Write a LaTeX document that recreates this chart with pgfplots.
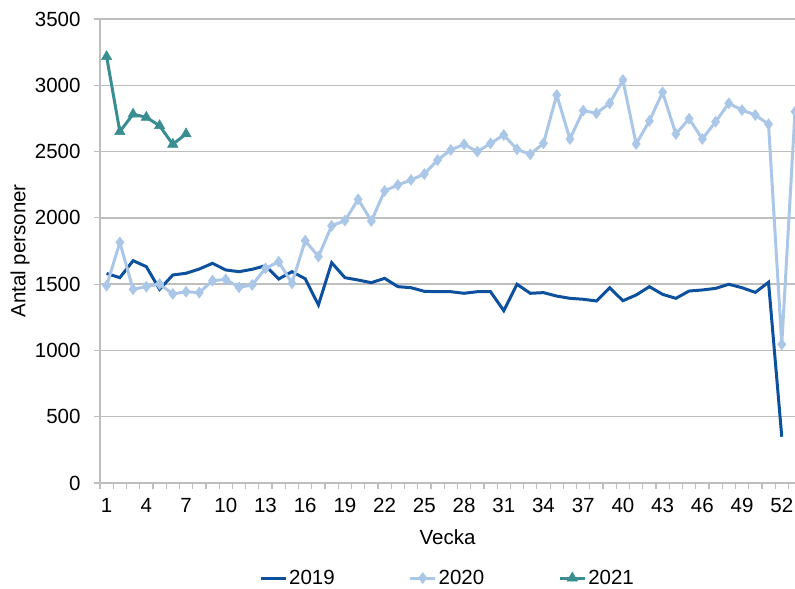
\documentclass[border=0pt]{standalone}
\usepackage{pgfplots}
\pgfplotsset{compat=1.18}
\usepackage{fontspec}
\setmainfont{Liberation Sans}
\definecolor{c19}{RGB}{12,80,158}
\definecolor{c20}{RGB}{170,199,232}
\definecolor{c21}{RGB}{58,142,145}
\definecolor{gridc}{RGB}{190,190,190}
\begin{document}
\begin{tikzpicture}[font=\fontsize{20.5bp}{24bp}\selectfont]
\begin{axis}[name=ax, scale only axis, width=695bp, height=464bp,
  xmin=0.5, xmax=53, ymin=0, ymax=3500,
  clip=false,
  axis x line*=bottom, axis y line*=left,
  axis line style={gridc, line width=1.2bp},
  xtick={1,4,...,52}, minor xtick={0.5,1.5,...,52.5},
  ytick={0,500,...,3500},
  tick align=outside,
  major tick length=6bp, minor tick length=6bp,
  major x tick style={draw=none},
  tick style={gridc, line width=1.2bp},
  ymajorgrids, grid style={gridc, line width=1.5bp},
  /pgf/number format/assume math mode=true,
  /pgf/number format/1000 sep={},
  xticklabel style={text=black, yshift=-6bp},
  yticklabel style={text=black, xshift=-10bp},
  xlabel={Vecka}, ylabel={Antal personer},
  every axis y label/.style={at={(axis description cs:-0.1151,0.5)}, rotate=90, anchor=center},
  every axis x label/.style={at={(axis description cs:0.5,0)}, anchor=center, yshift=-54bp},
  legend style={at={(axis description cs:0.5,0)}, anchor=center, yshift=-95bp, draw=none, fill=none,
    /tikz/every even column/.append style={column sep=72bp}},
  legend columns=3,
  legend cell align=left,
  legend image code/.code={\draw[mark repeat=2,mark phase=2,#1] plot coordinates {(0bp,0bp) (12.5bp,0bp) (25bp,0bp)};},
]
\addplot[c19, line width=3bp, no markers] coordinates {
(1,1580) (2,1549) (3,1677) (4,1632) (5,1461) (6,1569) (7,1582) (8,1614) (9,1657) (10,1607)
(11,1594) (12,1612) (13,1639) (14,1539) (15,1594) (16,1541) (17,1343) (18,1662) (19,1549) (20,1531)
(21,1511) (22,1544) (23,1481) (24,1473) (25,1446) (26,1443) (27,1443) (28,1431) (29,1443) (30,1443)
(31,1300) (32,1499) (33,1431) (34,1436) (35,1410) (36,1393) (37,1386) (38,1373) (39,1473) (40,1375)
(41,1418) (42,1481) (43,1423) (44,1393) (45,1448) (46,1456) (47,1468) (48,1499) (49,1473) (50,1438)
(51,1514) (52,349)
};
\addlegendentry{2019}
\addplot[c20, line width=3bp, mark=diamond*, mark size=5.5bp, mark options={fill=c20, line width=0.5bp}] coordinates {
(1,1488) (2,1815) (3,1461) (4,1481) (5,1501) (6,1426) (7,1443) (8,1436) (9,1526) (10,1536)
(11,1476) (12,1494) (13,1619) (14,1669) (15,1506) (16,1828) (17,1708) (18,1940) (19,1979) (20,2140)
(21,1976) (22,2203) (23,2248) (24,2286) (25,2331) (26,2436) (27,2512) (28,2555) (29,2499) (30,2562)
(31,2625) (32,2517) (33,2479) (34,2562) (35,2927) (36,2595) (37,2809) (38,2789) (39,2864) (40,3040)
(41,2557) (42,2731) (43,2947) (44,2632) (45,2748) (46,2595) (47,2725) (48,2864) (49,2813) (50,2776)
(51,2706) (52,1046) (53,2801)
};
\addlegendentry{2020}
\addplot[c21, line width=3bp, mark=triangle*, mark size=6bp, mark options={fill=c21, line width=0.5bp}] coordinates {
(1,3216) (2,2650) (3,2782) (4,2758) (5,2695) (6,2555) (7,2633)
};
\addlegendentry{2021}
\end{axis}
\pgfresetboundingbox
\path[use as bounding box] ([shift={(-100bp,-106bp)}]ax.south west) rectangle ([shift={(0bp,19bp)}]ax.north east);
\end{tikzpicture}
\end{document}
